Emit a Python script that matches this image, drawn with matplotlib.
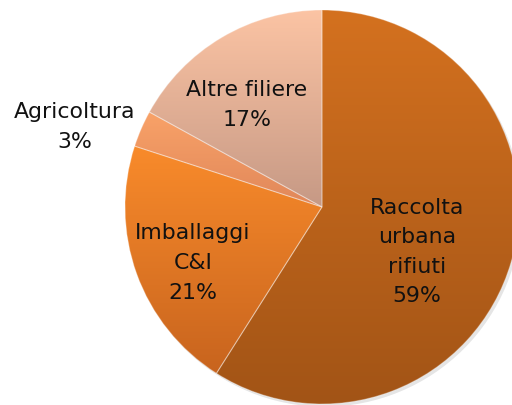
import numpy as np
import matplotlib.pyplot as plt
from matplotlib.colors import LinearSegmentedColormap
from matplotlib.patches import Circle

plt.rcParams['font.family'] = ['DejaVu Sans']

labels = ['Raccolta\nurbana\nrifiuti', 'Imballaggi\nC&I', 'Agricoltura', 'Altre filiere']
values = [59, 21, 3, 17]
# gradient colours (top, bottom) for each slice
top_colors = ['#d4711f', '#f98b2b', '#f9a268', '#fcc4a4']
bottom_colors = ['#a25416', '#c8641e', '#e0875a', '#c69985']
# label centres in axes data units (pie radius = 1)
label_pos = [(0.482, -0.228), (-0.655, -0.284), (-1.254, 0.406), (-0.381, 0.518)]

fig = plt.figure(figsize=(5.12, 4.05), dpi=100)
ax = fig.add_axes([0, 0, 1, 1])

# faint shadow
shadow = Circle((0.012, -0.014), 1.0, facecolor='#000000', alpha=0.10, edgecolor='none', zorder=0)
ax.add_patch(shadow)

wedges, _ = ax.pie(values, startangle=90, counterclock=False, radius=1.0,
                   wedgeprops=dict(edgecolor=(1, 1, 1, 0.3), linewidth=0.8))

grad = np.linspace(0, 1, 256).reshape(-1, 1)
for w, c1, c2 in zip(wedges, top_colors, bottom_colors):
    w.set_facecolor('none')
    bb = w.get_path().get_extents()
    cmap = LinearSegmentedColormap.from_list('g', [c1, c2])
    im = ax.imshow(grad, cmap=cmap, aspect='auto', origin='upper',
                   extent=[bb.x0, bb.x1, bb.y0, bb.y1], zorder=1)
    im.set_clip_path(w)
    w.set_zorder(2)

for text, pct, (x, y) in zip(labels, values, label_pos):
    ax.text(x, y, f'{text}\n{pct}%', ha='center', va='center', fontsize=15.8,
            linespacing=1.6, color='#111111', zorder=3)

s = 197.0
ax.set_xlim(-322 / s, (512 - 322) / s)
ax.set_ylim(-(405 - 207) / s, 207 / s)
ax.set_aspect('auto')
ax.axis('off')

fig.savefig('out.png', dpi=100, facecolor='white')
